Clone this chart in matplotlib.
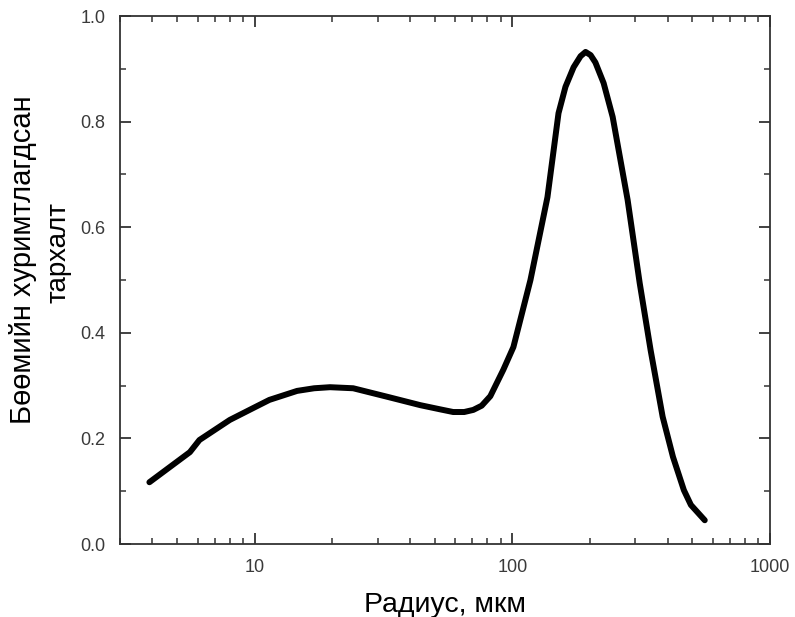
import matplotlib
matplotlib.use('Agg')
import matplotlib.pyplot as plt
from matplotlib.ticker import LogLocator, MultipleLocator, FixedLocator, NullFormatter

# Data
radius = [3.9, 5.6, 6.1, 8.0, 10.0, 11.4, 14.6, 17.0, 19.6, 24.1, 32.6,
          43.9, 52.5, 58.9, 65.0, 70.5, 76.0, 82.1, 92.2, 100.9, 117.5,
          136.8, 151.0, 160.7, 172.8, 183.9, 192.3, 201.2, 210.0, 226.0,
          245.0, 280.0, 312.0, 344.0, 383.0, 420.0, 463.0, 493.0, 558.0]
distribution = [0.117, 0.174, 0.197, 0.235, 0.259, 0.273, 0.290, 0.295,
                0.297, 0.295, 0.279, 0.263, 0.255, 0.250, 0.250, 0.254,
                0.262, 0.280, 0.330, 0.373, 0.500, 0.657, 0.816, 0.866,
                0.903, 0.924, 0.932, 0.926, 0.912, 0.873, 0.809, 0.652,
                0.494, 0.367, 0.241, 0.165, 0.102, 0.074, 0.045]

x_ticks = [10, 100, 1000]
x_tick_labels = ['10', '100', '1000']
y_ticks = [0.0, 0.2, 0.4, 0.6, 0.8, 1.0]

plt.rcParams['font.family'] = ['Liberation Sans', 'DejaVu Sans']

fig = plt.figure(figsize=(7.95, 6.17), dpi=100)
ax = fig.add_axes([0.151, 0.1183, 0.8176, 0.8557])

ax.plot(radius, distribution, color='black', linewidth=4.3,
        solid_capstyle='round', solid_joinstyle='round')

ax.set_xscale('log')
ax.set_xlim(3, 1000)
ax.set_ylim(0, 1.0)

ax.xaxis.set_major_locator(FixedLocator(x_ticks))
ax.set_xticklabels(x_tick_labels)
ax.xaxis.set_minor_locator(LogLocator(base=10, subs=range(2, 10)))
ax.xaxis.set_minor_formatter(NullFormatter())
ax.set_yticks(y_ticks)
ax.set_yticklabels([f'{v:.1f}' for v in y_ticks])
ax.yaxis.set_minor_locator(MultipleLocator(0.1))

for side in ax.spines.values():
    side.set_color('#333333')
    side.set_linewidth(1.3)

ax.tick_params(which='both', direction='in', top=True, right=True,
               colors='#333333', labelcolor='#3a3a3a', labelsize=13)
ax.tick_params(which='major', length=8, width=1.3, pad=10.5)
ax.tick_params(which='minor', length=4, width=1.1)

ax.set_xlabel('Радиус, мкм', fontsize=20.5, labelpad=12)

fig.text(0.029, 0.579, 'Бөөмийн хуримтлагдсан', rotation=90,
         fontsize=21, ha='center', va='center')
fig.text(0.073, 0.590, 'тархалт', rotation=90,
         fontsize=20, ha='center', va='center')

fig.savefig('out.png', dpi=100)
